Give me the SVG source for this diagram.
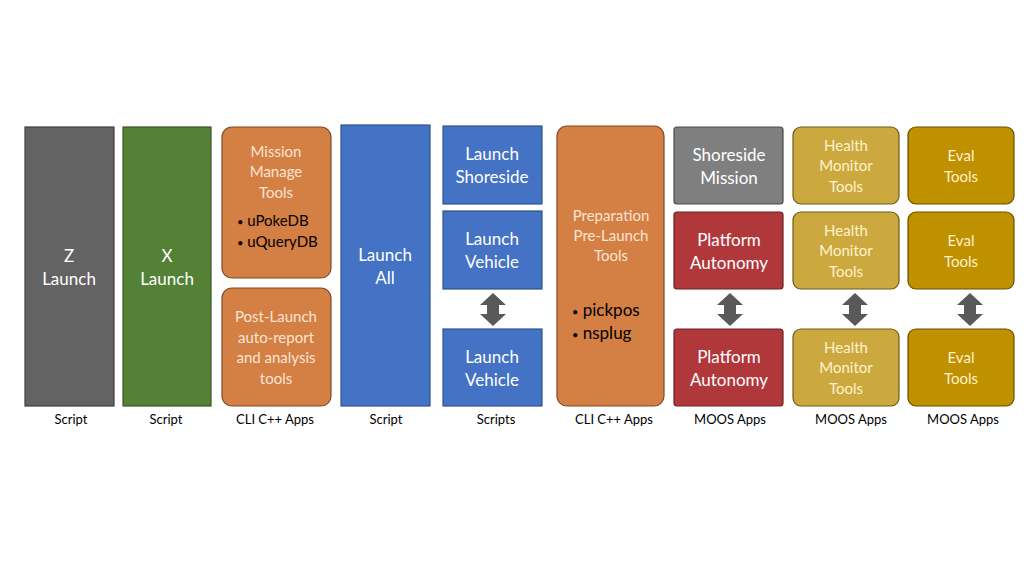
<svg xmlns="http://www.w3.org/2000/svg" width="1024" height="576" viewBox="0 0 1024 576">
<style>
text{font-family:Lato,"Open Sans","Liberation Sans",sans-serif;text-anchor:middle}
.w{fill:#ffffff;font-size:17px}
.ws{fill:#fbe5d6;font-size:15px}
.y{fill:#fff2cc;font-size:15px}
.b{fill:#000000;font-size:15px;text-anchor:start}
.bl{fill:#000000;font-size:17px;text-anchor:start}
.dot{font-size:11px}
.lab{fill:#000000;font-size:13px}
.gray{fill:#636363;stroke:#404040;stroke-width:1.2}
.green{fill:#538135;stroke:#385723;stroke-width:1.2}
.orange{fill:#d47f43;stroke:#7f4a24;stroke-width:1.2}
.blue{fill:#4472c4;stroke:#2f528f;stroke-width:1.2}
.lgray{fill:#7f7f7f;stroke:#4a4a4a;stroke-width:1.2}
.red{fill:#b0383b;stroke:#6b2225;stroke-width:1.2}
.gold{fill:#cba93f;stroke:#6f5a1e;stroke-width:1.2}
.eval{fill:#bf9000;stroke:#6b5000;stroke-width:1.2}
.arr{fill:#595959}
</style>
<rect width="1024" height="576" fill="#ffffff"/>
<g id="z-launch"><rect class="gray" x="25" y="127" width="89" height="279"/><text class="w" x="69" y="262">Z</text><text class="w" x="69" y="285">Launch</text></g>
<g id="x-launch"><rect class="green" x="123" y="127" width="88" height="279"/><text class="w" x="167" y="262">X</text><text class="w" x="167" y="285">Launch</text></g>
<g id="mission-manage"><rect class="orange" x="222" y="127" width="109" height="151" rx="10"/><text class="ws" x="276" y="157">Mission</text><text class="ws" x="276" y="177">Manage</text><text class="ws" x="276" y="198">Tools</text><text class="b" x="237" y="226"><tspan class="dot">•</tspan> uPokeDB</text><text class="b" x="237" y="247"><tspan class="dot">•</tspan> uQueryDB</text></g>
<g id="post-launch"><rect class="orange" x="222" y="288" width="109" height="118" rx="10"/><text class="ws" x="276" y="322">Post-Launch</text><text class="ws" x="276" y="343">auto-report</text><text class="ws" x="276" y="363">and analysis</text><text class="ws" x="276" y="384">tools</text></g>
<g id="launch-all"><rect class="blue" x="341" y="125" width="89" height="281"/><text class="w" x="385" y="261">Launch</text><text class="w" x="385" y="284">All</text></g>
<g id="launch-shoreside"><rect class="blue" x="443" y="126" width="99" height="78"/><text class="w" x="492" y="160">Launch</text><text class="w" x="492" y="183">Shoreside</text></g>
<g id="launch-vehicle-1"><rect class="blue" x="443" y="211" width="99" height="78"/><text class="w" x="492" y="245">Launch</text><text class="w" x="492" y="268">Vehicle</text></g>
<g id="launch-vehicle-2"><rect class="blue" x="443" y="329" width="99" height="77"/><text class="w" x="492" y="363">Launch</text><text class="w" x="492" y="386">Vehicle</text></g>
<g id="preparation"><rect class="orange" x="557" y="126" width="107" height="280" rx="10"/><text class="ws" x="611" y="221">Preparation</text><text class="ws" x="611" y="241">Pre-Launch</text><text class="ws" x="611" y="261">Tools</text><text class="bl" x="572" y="316"><tspan class="dot">•</tspan> pickpos</text><text class="bl" x="572" y="339"><tspan class="dot">•</tspan> nsplug</text></g>
<g id="shoreside-mission"><rect class="lgray" x="674" y="127" width="109" height="77" rx="3"/><text class="w" x="729" y="161">Shoreside</text><text class="w" x="729" y="184">Mission</text></g>
<g id="platform-autonomy-1"><rect class="red" x="674" y="212" width="109" height="77" rx="3"/><text class="w" x="729" y="246">Platform</text><text class="w" x="729" y="269">Autonomy</text></g>
<g id="platform-autonomy-2"><rect class="red" x="674" y="329" width="109" height="77" rx="3"/><text class="w" x="729" y="363">Platform</text><text class="w" x="729" y="386">Autonomy</text></g>
<g id="health-1"><rect class="gold" x="793" y="127" width="106" height="77" rx="8"/><text class="y" x="846" y="151">Health</text><text class="y" x="846" y="171">Monitor</text><text class="y" x="846" y="192">Tools</text></g>
<g id="health-2"><rect class="gold" x="793" y="212" width="106" height="77" rx="8"/><text class="y" x="846" y="236">Health</text><text class="y" x="846" y="256">Monitor</text><text class="y" x="846" y="277">Tools</text></g>
<g id="health-3"><rect class="gold" x="793" y="329" width="106" height="77" rx="8"/><text class="y" x="846" y="353">Health</text><text class="y" x="846" y="373">Monitor</text><text class="y" x="846" y="394">Tools</text></g>
<g id="eval-1"><rect class="eval" x="908" y="127" width="106" height="77" rx="8"/><text class="y" x="961" y="161">Eval</text><text class="y" x="961" y="182">Tools</text></g>
<g id="eval-2"><rect class="eval" x="908" y="212" width="106" height="77" rx="8"/><text class="y" x="961" y="246">Eval</text><text class="y" x="961" y="267">Tools</text></g>
<g id="eval-3"><rect class="eval" x="908" y="329" width="106" height="77" rx="8"/><text class="y" x="961" y="363">Eval</text><text class="y" x="961" y="384">Tools</text></g>
<g id="connectors">
<path class="arr" d="M493,293 L506,305 L499,305 L499,314 L506,314 L493,326 L480,314 L487,314 L487,305 L480,305 Z"/>
<path class="arr" d="M730,293 L743,305 L736,305 L736,314 L743,314 L730,326 L717,314 L724,314 L724,305 L717,305 Z"/>
<path class="arr" d="M855,293 L868,305 L861,305 L861,314 L868,314 L855,326 L842,314 L849,314 L849,305 L842,305 Z"/>
<path class="arr" d="M970,293 L983,305 L976,305 L976,314 L983,314 L970,326 L957,314 L964,314 L964,305 L957,305 Z"/>
</g>
<g id="labels">
<text class="lab" x="71" y="424">Script</text>
<text class="lab" x="166" y="424">Script</text>
<text class="lab" x="275" y="424">CLI C++ Apps</text>
<text class="lab" x="386" y="424">Script</text>
<text class="lab" x="496" y="424">Scripts</text>
<text class="lab" x="614" y="424">CLI C++ Apps</text>
<text class="lab" x="730" y="424">MOOS Apps</text>
<text class="lab" x="851" y="424">MOOS Apps</text>
<text class="lab" x="963" y="424">MOOS Apps</text>
</g>
</svg>
